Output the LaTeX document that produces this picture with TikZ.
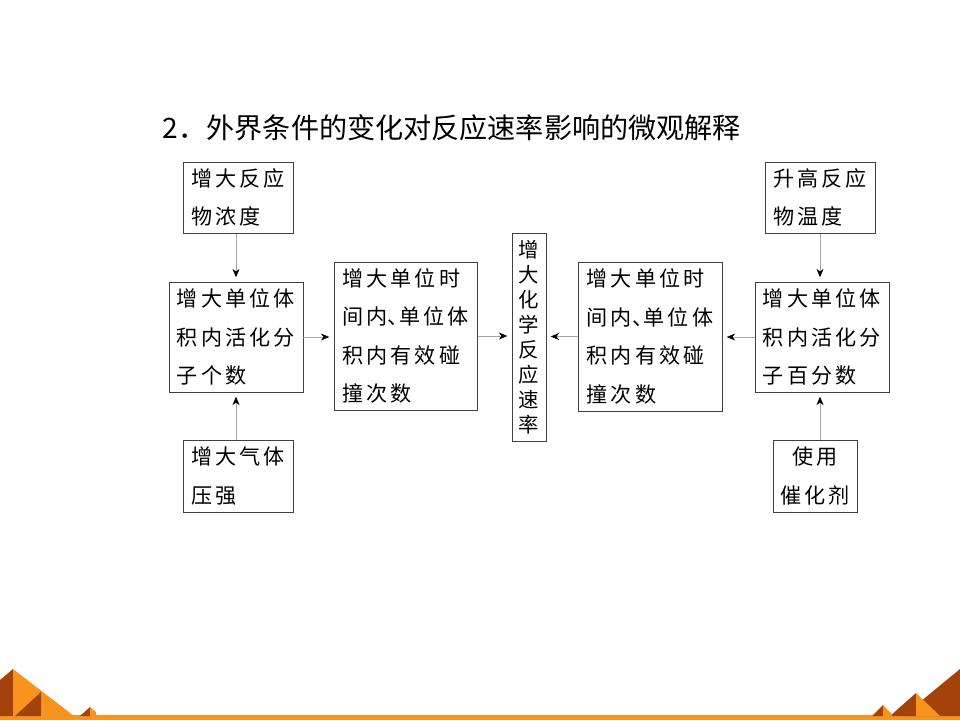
\documentclass[tikz,border=0pt]{standalone}
\usepackage{fontspec}
\usetikzlibrary{arrows.meta}
\newfontfamily\cjk[LetterSpace=15]{Noto Sans CJK SC}
\newfontfamily\cjktitle{Noto Sans CJK SC}
\newcommand\dun{\makebox[0.55em][l]{、}}
\definecolor{orlight}{HTML}{F7941D}
\definecolor{ordark}{HTML}{A3430B}
\begin{document}
\begin{tikzpicture}[y=-1cm,
  box/.style={draw=black!75,line width=0.7pt,align=left,inner sep=0pt,
    font=\cjk\fontsize{15}{27.3}\selectfont},
  arr/.style={draw=black!35,line width=0.5pt,
    -{Stealth[black,length=6pt,width=5pt]},shorten >=3pt}]
  \useasboundingbox (0,0) rectangle (24,18);
  % title
  \node[anchor=west,font=\cjktitle\fontsize{20}{24}\selectfont] (title) at (3.95,3.2)
    {2．外界条件的变化对反应速率影响的微观解释};
  % left branch
  \node[box,minimum width=2.75cm,minimum height=1.775cm] (conc) at (5.95,4.9375) {增大反应\\物浓度};
  \node[box,minimum width=3.35cm,minimum height=2.75cm] (actA) at (5.9,8.425) {增大单位体\\积内活化分\\子个数};
  \node[box,minimum width=2.75cm,minimum height=1.8cm] (press) at (5.95,11.9) {增大气体\\压强};
  \node[box,minimum width=3.575cm,minimum height=3.7cm] (collA) at (10.1375,8.4) {增大单位时\\间内\dun 单位体\\积内有效碰\\撞次数};
  % centre
  \node[box,align=center,minimum width=0.85cm,minimum height=5.2cm,
    font=\cjktitle\fontsize{14.5}{17.8}\selectfont] (rate) at (13.225,8.425) {增\\大\\化\\学\\反\\应\\速\\率};
  % right branch
  \node[box,minimum width=3.6cm,minimum height=3.725cm] (collB) at (16.25,8.4125) {增大单位时\\间内\dun 单位体\\积内有效碰\\撞次数};
  \node[box,minimum width=2.75cm,minimum height=1.775cm] (temp) at (20.5,4.9375) {升高反应\\物温度};
  \node[box,minimum width=3.35cm,minimum height=2.75cm] (actB) at (20.55,8.425) {增大单位体\\积内活化分\\子百分数};
  \node[box,align=center,minimum width=2.1cm,minimum height=1.8cm] (cat) at (20.375,11.9) {使用\\催化剂};
  % arrows
  \draw[arr] (conc.south -| actA.north) -- (actA.north);
  \draw[arr] (press.north -| actA.south) -- (actA.south);
  \draw[arr] (actA.east) -- (collA.west |- actA.east);
  \draw[arr] (collA.east) -- (rate.west |- collA.east);
  \draw[arr] (collB.west) -- (rate.east |- collB.west);
  \draw[arr] (actB.west) -- (collB.east |- actB.west);
  \draw[arr] (temp.south) -- (temp.south |- actB.north);
  \draw[arr] (cat.north -| temp.south) -- (temp.south |- actB.south);
  % bottom decoration
  \fill[orlight] (0,17.88) rectangle (24,18);
  \fill[ordark] (0,17.0) -- (0.325,16.725) -- (0.325,17.9) -- (0,17.9) -- cycle;
  \fill[orlight] (0.325,16.725) -- (1.85,17.9) -- (0.325,17.9) -- cycle;
  \fill[ordark] (0.375,17.9) -- (1.025,17.3) -- (1.025,17.9) -- cycle;
  \fill[ordark] (2.0,17.9) -- (2.25,17.675) -- (2.25,17.9) -- cycle;
  \fill[orlight] (2.25,17.675) -- (2.4,17.8) -- (2.4,17.9) -- (2.25,17.9) -- cycle;
  \fill[ordark] (22.575,17.9) -- (24,16.725) -- (24,17.9) -- cycle;
  \fill[ordark] (22.25,17.9) -- (22.9,17.325) -- (22.9,17.9) -- cycle;
  \fill[orlight] (22.9,17.325) -- (23.5,17.9) -- (22.9,17.9) -- cycle;
  \fill[ordark] (21.8,17.9) -- (22.075,17.625) -- (22.075,17.9) -- cycle;
  \fill[orlight] (22.075,17.625) -- (22.3,17.85) -- (22.3,17.9) -- (22.075,17.9) -- cycle;
\end{tikzpicture}
\end{document}
